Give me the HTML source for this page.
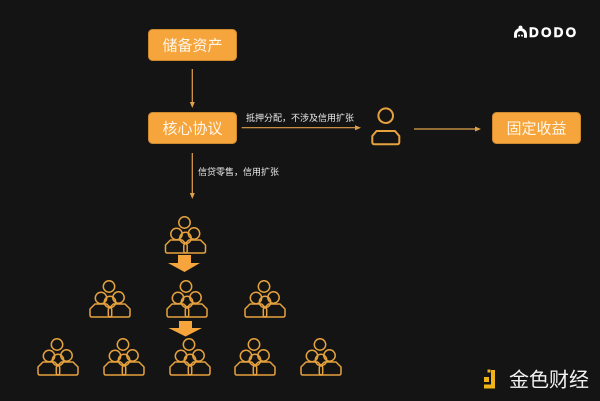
<!DOCTYPE html>
<html>
<head>
<meta charset="utf-8">
<style>
  html, body { margin:0; padding:0; background:#141414; }
  body { width:600px; height:401px; overflow:hidden; }
  svg { display:block; }
  .cjk { font-family: "Liberation Sans", "Noto Sans CJK SC", "WenQuanYi Zen Hei", sans-serif; }
</style>
</head>
<body>
<svg width="600" height="401" viewBox="0 0 600 401" xmlns="http://www.w3.org/2000/svg">
  <defs>
    <g id="crowd" fill="none" stroke="#e6a23e" stroke-width="1.5" stroke-linejoin="round">
      <circle cx="0" cy="6.5" r="5.7"/>
      <circle cx="-8" cy="18" r="5.7"/>
      <circle cx="9.5" cy="17.5" r="5.7"/>
      <circle cx="1" cy="22" r="5.7"/>
      <path d="M -14,24 H -2.3 L 2.7,29 V 35 Q 2.7,37 0.7,37 H -17 Q -19,37 -19,35 V 29 Z"/>
      <path d="M 4.3,24 H 16 L 21,29 V 35 Q 21,37 19,37 H 1.3 Q -0.7,37 -0.7,35 V 29 Z"/>
    </g>
  </defs>

  <rect width="600" height="401" fill="#141414"/>

  <!-- DODO logo -->
  <g fill="#ffffff">
    <circle cx="520.5" cy="27.6" r="2"/>
    <circle cx="519" cy="35.6" r="1"/>
    <circle cx="522" cy="35.6" r="1"/>
  </g>
  <path d="M 515.5,37.8 V 34.5 A 5,5 0 0 1 525.5,34.5 V 37.8" fill="none" stroke="#ffffff" stroke-width="3"/>
  <text x="529" y="37.2" font-family="Liberation Sans, sans-serif" font-weight="bold" font-size="13.5" letter-spacing="2.2" fill="#ffffff" stroke="#ffffff" stroke-width="0.5">DODO</text>

  <!-- Boxes -->
  <rect x="148.5" y="29.5" width="88" height="31" rx="4" fill="#f5a53c" stroke="#cf8a30" stroke-width="1"/>
  <text x="192.5" y="50.5" text-anchor="middle" class="cjk" font-size="15" fill="#fff6e8">储备资产</text>

  <rect x="148.5" y="112.5" width="88" height="31" rx="4" fill="#f5a53c" stroke="#cf8a30" stroke-width="1"/>
  <text x="192.5" y="133.5" text-anchor="middle" class="cjk" font-size="15" fill="#fff6e8">核心协议</text>

  <rect x="492.5" y="112.5" width="88" height="31" rx="4" fill="#f5a53c" stroke="#cf8a30" stroke-width="1"/>
  <text x="536.5" y="133.5" text-anchor="middle" class="cjk" font-size="15" fill="#fff6e8">固定收益</text>

  <!-- Connectors -->
  <g stroke="#dfa04a" stroke-width="1.2" fill="none">
    <line x1="192.3" y1="69" x2="192.3" y2="103"/>
    <line x1="241.7" y1="127.7" x2="356" y2="127.7"/>
    <line x1="192.3" y1="153" x2="192.3" y2="194"/>
    <line x1="414" y1="129" x2="476" y2="129"/>
  </g>
  <g fill="#dfa04a">
    <polygon points="189.8,102 194.8,102 192.3,108"/>
    <polygon points="355,125.2 355,130.2 361,127.7"/>
    <polygon points="189.8,193 194.8,193 192.3,199"/>
    <polygon points="475,126.5 475,131.5 481,129"/>
  </g>

  <!-- Labels -->
  <text x="246" y="121" class="cjk" font-size="9" fill="#ececec">抵押分配，不涉及信用扩张</text>
  <text x="198" y="175" class="cjk" font-size="9" fill="#ececec">信贷零售，信用扩张</text>

  <!-- Person -->
  <g fill="none" stroke="#e6a23e" stroke-width="2" stroke-linejoin="round">
    <circle cx="385.7" cy="115.7" r="7.3"/>
    <path d="M 376.5,131 H 395 L 399.3,136 V 142 Q 399.3,144.3 397,144.3 H 374.6 Q 372.3,144.3 372.3,142 V 136 Z"/>
  </g>

  <!-- Crowds -->
  <use href="#crowd" x="184.5" y="216"/>
  <use href="#crowd" x="109" y="280"/>
  <use href="#crowd" x="186" y="280"/>
  <use href="#crowd" x="264" y="280"/>
  <use href="#crowd" x="57" y="338"/>
  <use href="#crowd" x="123" y="338"/>
  <use href="#crowd" x="189" y="338"/>
  <use href="#crowd" x="254" y="338"/>
  <use href="#crowd" x="320" y="338"/>

  <!-- Big arrows -->
  <polygon points="178,255 191,255 191,263 200,263 184.5,272 168,263 178,263" fill="#f5a53c"/>
  <polygon points="179,321 192,321 192,328 202,328 185.5,336.5 168.5,328 179,328" fill="#f5a53c"/>

  <!-- Jinse logo -->
  <g fill="#f0b418">
    <rect x="484" y="377" width="5" height="5"/>
    <rect x="491" y="370" width="4" height="18.5"/>
    <rect x="484" y="384.5" width="11" height="4"/>
    <rect x="487.5" y="369.5" width="3" height="3"/>
  </g>
  <text x="509" y="386.5" class="cjk" font-size="20" fill="#f2f2f2">金色财经</text>
</svg>
</body>
</html>
